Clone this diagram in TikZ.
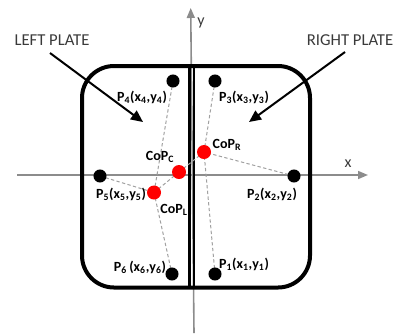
\documentclass[tikz,border=0pt]{standalone}
\usepackage{fontspec}
\setmainfont{Carlito}
\usetikzlibrary{arrows.meta}
\definecolor{axisgray}{HTML}{8C8C8C}
\definecolor{dashgray}{HTML}{A0A0A0}
\definecolor{platetxt}{HTML}{3A3A3A}
\tikzset{
  axisline/.style={draw=axisgray, line width=1.2pt, -{Triangle[length=7.5pt,width=6pt]}},
  plateline/.style={draw=black, line width=3pt},
  divline/.style={draw=black, line width=2.2pt},
  blackdot/.style={circle, fill=black, inner sep=0pt, minimum size=9.8pt},
  reddot/.style={circle, fill=red, inner sep=0pt, minimum size=10.5pt},
  ptlabel/.style={inner sep=0pt, font=\fontsize{10.5pt}{12pt}\selectfont\bfseries},
  platelabel/.style={inner sep=0pt, text=platetxt, font=\fontsize{12.5pt}{14pt}\selectfont},
  axislabel/.style={inner sep=0pt, text=platetxt, font=\fontsize{12pt}{14pt}\selectfont},
  dashlink/.style={draw=dashgray, line width=0.75pt, dash pattern=on 2.5pt off 1.8pt},
  platearrow/.style={draw=black, line width=1.5pt, -{Triangle[length=9pt,width=8pt]}},
}
\begin{document}
\begin{tikzpicture}[x=0.75pt, y=-0.75pt]
\useasboundingbox (0,0) rectangle (398,333);
% axes
\coordinate (xs) at (17,175);
\coordinate (xe) at (368,175);
\coordinate (ys) at (194,333);
\coordinate (ye) at (190.7,8);
\draw[axisline] (xs) -- (xe);
\draw[axisline] (ys) -- (ye);
\node[axislabel] (xl) at (348,164) {x};
\node[axislabel] (yl) at (201,23) {y};
% plate outline
\draw[plateline, rounded corners=24pt] (82,66) rectangle (310,287.5);
\coordinate (d1t) at (189.7,66);
\coordinate (d1b) at (189.7,287.5);
\coordinate (d2t) at (194,66);
\coordinate (d2b) at (194,287.5);
\draw[divline] (d1t) -- (d1b);
\draw[divline] (d2t) -- (d2b);
% points
\coordinate (c4) at (173,81);
\coordinate (c3) at (215,81);
\coordinate (c5) at (100,176);
\coordinate (c2) at (294,176);
\coordinate (c6) at (172,274);
\coordinate (c1) at (215,274);
\coordinate (cc) at (179,172);
\coordinate (cr) at (204,152);
\coordinate (cl) at (154,192.5);
% dashed links
\draw[dashlink] (c4) -- (cl);
\draw[dashlink] (c6) -- (cl);
\draw[dashlink] (c5) -- (cl);
\draw[dashlink] (cl) -- (cc);
\draw[dashlink] (cc) -- (cr);
\draw[dashlink] (c3) -- (cr);
\draw[dashlink] (c1) -- (cr);
\draw[dashlink] (c2) -- (cr);
% dots
\node[blackdot] (p4) at (c4) {};
\node[blackdot] (p3) at (c3) {};
\node[blackdot] (p5) at (c5) {};
\node[blackdot] (p2) at (c2) {};
\node[blackdot] (p6) at (c6) {};
\node[blackdot] (p1) at (c1) {};
\node[reddot] (copc) at (cc) {};
\node[reddot] (copr) at (cr) {};
\node[reddot] (copl) at (cl) {};
% labels
\node[ptlabel] (l4) at (142,97) {P\textsubscript{4}(x\textsubscript{4},y\textsubscript{4})};
\node[ptlabel] (l3) at (244,97) {P\textsubscript{3}(x\textsubscript{3},y\textsubscript{3})};
\node[ptlabel] (l5) at (121,194) {P\textsubscript{5}(x\textsubscript{5},y\textsubscript{5})};
\node[ptlabel] (l2) at (272,194) {P\textsubscript{2}(x\textsubscript{2},y\textsubscript{2})};
\node[ptlabel] (l6) at (140,267) {P\textsubscript{6}\,(x\textsubscript{6},y\textsubscript{6})};
\node[ptlabel] (l1) at (244,264) {P\textsubscript{1}(x\textsubscript{1},y\textsubscript{1})};
\node[ptlabel] (lc) at (160,157) {CoP\textsubscript{C}};
\node[ptlabel] (lr) at (227,145) {CoP\textsubscript{R}};
\node[ptlabel] (ll) at (174,210) {CoP\textsubscript{L}};
% plate labels and arrows
\node[platelabel] (lp) at (52,40) {LEFT PLATE};
\node[platelabel] (rp) at (350,40) {RIGHT PLATE};
\coordinate (la1) at (50,53);
\coordinate (la2) at (143,122);
\coordinate (ra1) at (345,52);
\coordinate (ra2) at (249,122);
\draw[platearrow] (la1) -- (la2);
\draw[platearrow] (ra1) -- (ra2);
\end{tikzpicture}
\end{document}
